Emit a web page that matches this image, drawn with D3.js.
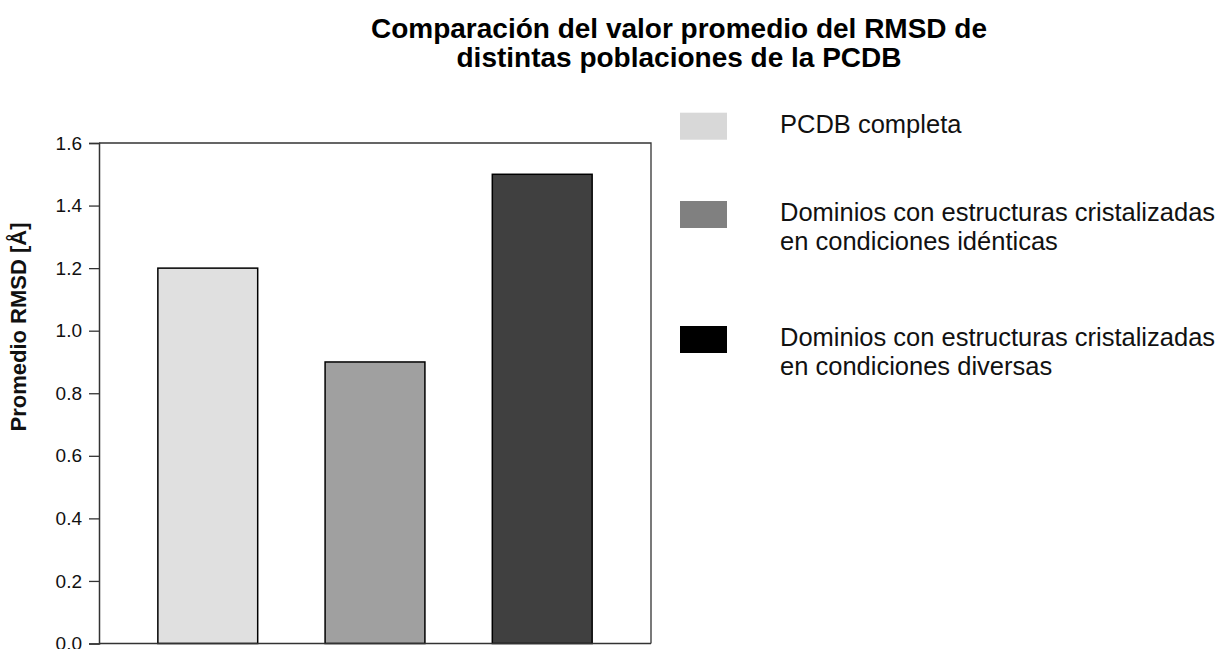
<!DOCTYPE html>
<html><head><meta charset="utf-8">
<script src="https://cdn.jsdelivr.net/npm/d3@7"></script>
<style>body{margin:0;background:#fff}svg{display:block}</style>
</head><body>
<svg id="c" width="1226" height="649"></svg>
<script>
const categories = ["PCDB completa", "Dominios con estructuras cristalizadas en condiciones idénticas", "Dominios con estructuras cristalizadas en condiciones diversas"];
const values = [1.2, 0.9, 1.5];
const barColors = ["#e0e0e0", "#a0a0a0", "#404040"];
const legendColors = ["#d8d8d8", "#808080", "#000000"];
const legendLines = [["PCDB completa"], ["Dominios con estructuras cristalizadas", "en condiciones idénticas"], ["Dominios con estructuras cristalizadas", "en condiciones diversas"]];
const yTicks = [0, 0.2, 0.4, 0.6, 0.8, 1.0, 1.2, 1.4, 1.6];
const titleLines = ["Comparación del valor promedio del RMSD de", "distintas poblaciones de la PCDB"];
const yLabel = "Promedio RMSD [Å]";

const svg = d3.select("#c");
const font = "Liberation Sans, Arial, sans-serif";
const L = 99, R = 651, T = 143, B = 643.5;

const x = d3.scaleBand().domain(categories).range([L, R]).paddingInner(0.403).paddingOuter(0.352);
const y = d3.scaleLinear().domain([0, 1.6]).range([B, T]);

// bars
svg.selectAll("rect.bar").data(values).enter().append("rect")
  .attr("x", (d, i) => x(categories[i]))
  .attr("width", x.bandwidth())
  .attr("y", d => y(d))
  .attr("height", d => y(0) - y(d))
  .attr("fill", (d, i) => barColors[i])
  .attr("stroke", "#000").attr("stroke-width", 1.5);

// frame
svg.append("path").attr("d", `M${L},${T}H${R}V${B}`).attr("fill", "none").attr("stroke", "#333").attr("stroke-width", 1.3);
svg.append("path").attr("d", `M${L},${B}H${R}`).attr("fill", "none").attr("stroke", "#333").attr("stroke-width", 1.5);

// y axis
const ya = svg.append("g").attr("transform", `translate(${L},0)`)
  .call(d3.axisLeft(y).tickValues(yTicks).tickFormat(d3.format(".1f")).tickSize(10).tickPadding(7));
ya.select(".domain").attr("stroke", "#333").attr("stroke-width", 1.5);
ya.selectAll(".tick line").attr("stroke", "#333").attr("stroke-width", 1.3);
ya.selectAll(".tick text").attr("font-family", font).attr("font-size", 19).attr("fill", "#111");

// y label
svg.append("text").attr("transform", `translate(26,327) rotate(-90)`)
  .attr("text-anchor", "middle").attr("font-family", font).attr("font-weight", "bold").attr("font-size", 22)
  .attr("fill", "#111").text(yLabel);

// title
svg.append("g").selectAll("text").data(titleLines).enter().append("text")
  .attr("x", 679).attr("y", (d, i) => 38 + i * 29)
  .attr("text-anchor", "middle").attr("font-family", font).attr("font-weight", "bold").attr("font-size", 28)
  .attr("fill", "#000").text(d => d);

// legend
const ly = [112.7, 201, 326];
const lg = svg.append("g");
legendLines.forEach((lines, i) => {
  lg.append("rect").attr("x", 680).attr("y", ly[i]).attr("width", 47).attr("height", 27).attr("fill", legendColors[i]);
  lines.forEach((t, j) => {
    lg.append("text").attr("x", 780).attr("y", ly[i] + 20 + j * 29)
      .attr("font-family", font).attr("font-size", 25.5).attr("fill", "#111").text(t);
  });
});
</script>
</body></html>
